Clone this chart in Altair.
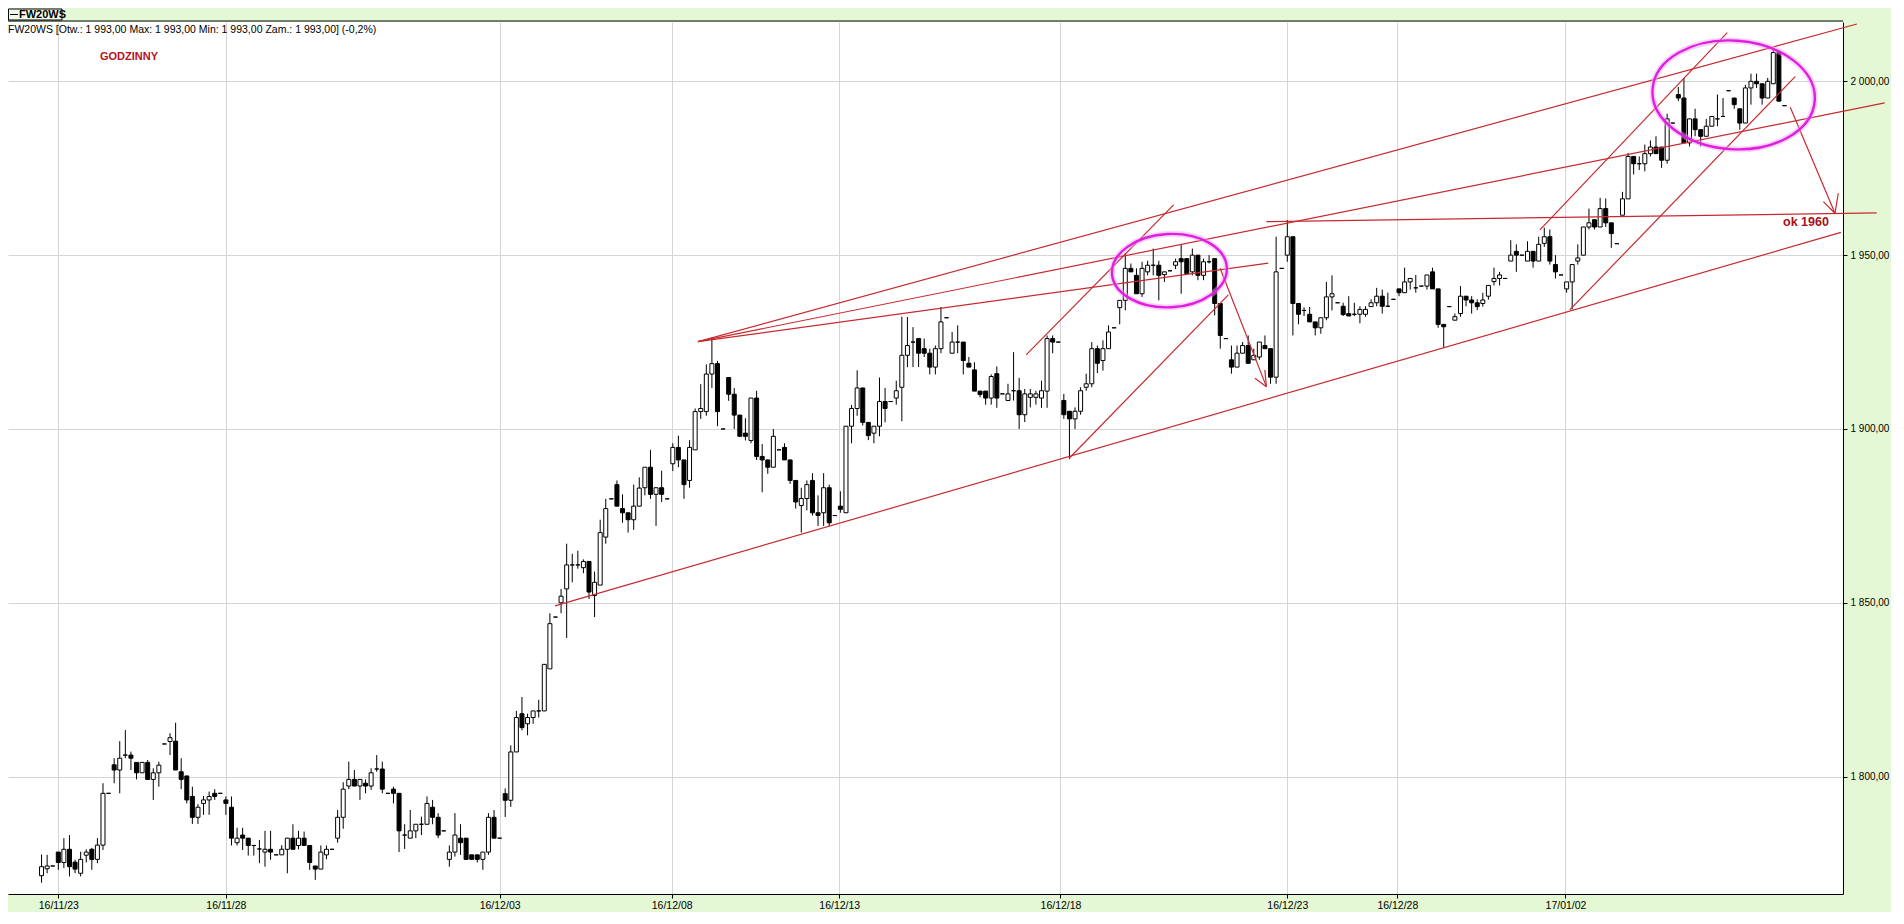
import altair as alt
import pandas as pd

# ---------------- candle data (hourly, FW20WS) ----------------
opens = [
1771.5,1773.5,1774.3,1778.3,1775.3,1779.1,1775.4,1772.2,1777.4,1779.1,
1776.2,1780.3,1795.2,1803.4,1801.9,1806.2,1806.2,1804.1,1801.1,1804.1,
1799.2,1801.1,1809.4,1810.1,1810.2,1801.4,1800.2,1794.3,1788.3,1792.3,
1793.3,1795.2,1795.2,1793.3,1791.2,1781.0,1783.2,1782.3,1780.2,1779.2,
1778.3,1779.1,1777.5,1777.5,1779.1,1782.3,1780.2,1782.3,1780.2,1774.3,
1773.4,1777.5,1779.1,1782.3,1788.3,1797.3,1799.2,1797.3,1798.1,1797.3,
1802.2,1802.2,1795.2,1796.4,1795.2,1783.2,1782.3,1784.4,1786.3,1786.3,
1791.2,1788.3,1784.4,1776.2,1778.3,1782.3,1782.3,1777.5,1777.5,1776.2,
1778.3,1788.3,1782.3,1795.1,1793.2,1807.1,1818.1,1815.2,1817.0,1818.9,
1818.9,1831.0,1845.9,1850.0,1854.0,1860.9,1860.9,1860.1,1861.9,1852.1,
1855.1,1868.9,1879.9,1884.0,1877.1,1875.9,1873.9,1877.8,1883.1,1889.0,
1881.2,1883.1,1879.9,1890.0,1894.7,1891.1,1885.2,1894.0,1905.0,1905.0,
1915.8,1918.8,1900.0,1914.8,1910.0,1904.0,1898.8,1896.7,1908.9,1892.1,
1891.1,1889.0,1894.0,1894.7,1891.1,1885.2,1878.0,1880.0,1885.2,1875.9,
1875.9,1883.1,1875.1,1877.8,1875.9,1900.8,1905.9,1911.8,1901.9,1898.8,
1900.8,1907.9,1907.9,1908.9,1912.0,1921.2,1925.0,1926.0,1923.1,1921.8,
1917.8,1923.1,1932.0,1921.8,1925.0,1925.0,1918.9,1917.0,1910.9,1910.9,
1908.9,1915.9,1910.1,1908.2,1911.0,1911.0,1904.1,1909.1,1909.1,1908.9,
1910.9,1926.0,1925.0,1908.2,1905.1,1902.9,1905.1,1912.0,1913.0,1923.1,
1919.7,1923.1,1929.1,1934.9,1937.0,1946.2,1944.2,1938.9,1945.2,1947.1,
1947.1,1944.4,1945.5,1947.1,1949.0,1949.0,1945.2,1950.0,1944.2,1948.1,
1949.0,1936.1,1926.0,1919.9,1917.8,1921.8,1924.0,1919.9,1920.7,1924.0,
1923.1,1914.9,1946.2,1950.0,1955.3,1936.1,1934.1,1933.0,1930.8,1929.1,
1932.0,1938.0,1936.3,1935.3,1933.2,1933.0,1933.0,1933.0,1935.2,1936.3,
1938.2,1935.3,1937.3,1940.3,1939.2,1942.3,1940.6,1941.1,1941.1,1945.2,
1940.3,1930.1,1935.2,1931.3,1933.2,1938.2,1937.1,1936.3,1936.1,1938.2,
1942.4,1943.3,1943.3,1948.3,1951.1,1950.0,1948.3,1951.1,1948.3,1953.4,
1955.3,1947.3,1944.3,1940.3,1942.3,1948.3,1950.0,1958.1,1960.2,1958.1,
1963.4,1959.3,1953.3,1961.5,1966.2,1978.4,1976.3,1976.3,1979.2,1981.1,
1981.1,1977.3,1988.0,1996.2,1995.2,1982.3,1989.2,1986.1,1984.2,1987.1,
1989.2,1989.9,1997.3,1995.2,1992.1,1988.0,1998.1,2000.0,1999.3,1995.2,
1999.3,2008.3,1993.0]

highs = [
1777.6,1777.5,1774.3,1778.3,1782.3,1783.2,1776.1,1778.4,1779.1,1779.5,
1782.3,1798.1,1795.2,1805.3,1810.2,1813.4,1807.2,1804.1,1804.1,1804.8,
1802.4,1804.3,1809.4,1812.5,1815.5,1805.3,1800.2,1797.1,1792.1,1794.4,
1795.7,1796.4,1795.2,1794.3,1794.3,1785.3,1785.3,1782.3,1780.2,1781.8,
1784.4,1784.4,1777.5,1780.3,1782.3,1786.3,1784.4,1784.2,1780.2,1774.3,
1780.2,1780.2,1779.1,1790.4,1798.4,1804.3,1801.9,1799.2,1799.2,1802.4,
1806.2,1804.3,1795.2,1797.1,1795.2,1786.3,1790.4,1786.3,1788.5,1794.3,
1793.3,1789.5,1784.4,1780.2,1789.5,1786.3,1782.3,1777.5,1777.5,1778.3,
1789.5,1790.4,1782.3,1796.6,1809.0,1818.9,1822.9,1818.1,1818.9,1822.1,
1832.3,1847.0,1845.9,1854.0,1867.0,1864.1,1865.0,1862.5,1861.9,1859.0,
1873.9,1879.9,1879.9,1885.2,1881.2,1875.9,1884.0,1886.1,1889.0,1894.0,
1883.1,1888.0,1879.9,1895.9,1898.1,1891.1,1896.8,1905.9,1912.9,1918.6,
1926.3,1919.6,1900.0,1914.8,1911.8,1904.0,1903.1,1908.9,1911.0,1895.7,
1891.1,1900.0,1894.0,1895.9,1891.1,1885.2,1883.1,1885.2,1887.3,1880.9,
1887.3,1884.0,1875.1,1882.1,1900.8,1906.9,1916.9,1911.8,1901.9,1900.8,
1914.8,1911.8,1907.9,1913.9,1932.3,1932.2,1929.3,1926.0,1926.0,1923.1,
1924.0,1935.1,1932.0,1927.9,1929.8,1925.0,1920.7,1919.2,1910.9,1910.9,
1915.7,1918.0,1910.1,1913.0,1922.1,1914.7,1911.5,1911.5,1911.0,1913.9,
1926.9,1926.9,1925.0,1910.1,1905.1,1906.2,1912.0,1915.9,1925.0,1924.0,
1925.5,1929.8,1929.1,1937.0,1950.5,1947.6,1946.2,1948.1,1948.4,1951.9,
1948.4,1945.2,1945.5,1949.0,1953.2,1949.0,1951.9,1950.0,1949.0,1950.0,
1949.0,1936.1,1926.0,1924.0,1924.0,1925.0,1926.9,1923.1,1925.0,1926.9,
1923.1,1955.3,1946.2,1960.1,1955.3,1936.1,1935.0,1935.1,1930.8,1932.0,
1942.3,1944.2,1936.3,1936.3,1938.2,1936.3,1935.3,1935.3,1937.3,1940.6,
1940.1,1939.2,1937.3,1940.3,1946.4,1943.3,1944.3,1941.1,1944.3,1946.4,
1940.3,1930.1,1935.2,1933.2,1941.1,1938.2,1938.2,1937.3,1939.2,1941.3,
1946.4,1945.2,1943.3,1954.3,1953.1,1950.0,1954.0,1951.1,1955.3,1957.9,
1957.4,1950.0,1944.3,1942.3,1947.3,1953.1,1958.1,1963.4,1960.2,1966.5,
1966.3,1959.3,1953.3,1968.2,1979.4,1978.4,1978.4,1981.8,1983.0,1984.2,
1981.1,1990.7,1988.0,1998.4,2001.0,1989.2,1992.1,1986.1,1989.2,1989.9,
1996.2,1995.2,1997.3,1995.2,1992.1,1999.0,2002.2,2002.2,1999.3,2001.0,
2009.1,2008.3,1993.0]

lows = [
1769.5,1772.2,1774.3,1773.2,1773.7,1771.3,1772.2,1771.3,1775.3,1773.2,
1775.1,1778.9,1795.2,1798.1,1795.2,1805.3,1801.9,1799.2,1801.1,1799.2,
1793.3,1797.1,1809.4,1806.2,1801.9,1796.4,1792.3,1786.4,1786.4,1789.0,
1789.0,1793.3,1795.2,1789.0,1780.2,1780.2,1778.9,1777.3,1777.3,1775.1,
1774.1,1776.1,1777.5,1777.5,1772.2,1779.1,1779.1,1780.2,1773.2,1770.3,
1773.4,1776.2,1779.1,1781.0,1785.0,1796.4,1797.3,1793.3,1795.2,1796.2,
1801.4,1795.2,1795.2,1792.3,1778.3,1779.2,1782.3,1782.3,1783.2,1786.3,
1786.3,1782.3,1784.4,1774.1,1777.0,1777.5,1776.2,1776.2,1775.3,1773.2,
1777.5,1782.3,1782.3,1788.4,1791.3,1807.1,1813.3,1811.9,1815.2,1817.0,
1818.9,1831.0,1845.9,1847.0,1839.9,1855.9,1859.8,1858.5,1851.1,1845.9,
1855.1,1867.0,1879.9,1877.8,1873.0,1870.2,1871.0,1877.8,1880.9,1879.9,
1872.1,1879.0,1879.9,1887.9,1889.0,1879.9,1883.1,1894.0,1902.9,1903.8,
1911.8,1900.8,1900.0,1908.1,1900.0,1897.9,1896.7,1895.9,1891.1,1881.8,
1887.1,1889.0,1894.0,1891.1,1884.2,1877.1,1870.2,1876.6,1875.1,1872.1,
1872.1,1872.1,1875.1,1875.9,1875.9,1895.9,1903.8,1901.0,1896.8,1895.9,
1897.9,1901.9,1907.9,1907.0,1902.2,1917.8,1917.8,1917.8,1920.7,1915.7,
1915.7,1921.8,1932.0,1921.8,1921.8,1915.7,1917.8,1910.9,1909.1,1907.0,
1907.0,1906.1,1910.1,1908.2,1908.2,1900.0,1902.0,1906.2,1907.0,1906.1,
1906.1,1921.8,1925.0,1902.9,1891.3,1900.0,1904.1,1911.0,1912.0,1916.1,
1916.8,1923.1,1929.1,1930.1,1934.1,1945.2,1938.9,1938.0,1944.2,1944.2,
1937.0,1942.3,1945.5,1946.0,1938.9,1944.7,1944.2,1942.8,1942.8,1947.6,
1932.7,1923.1,1926.0,1915.9,1917.8,1921.8,1918.9,1919.9,1919.9,1923.1,
1913.0,1913.0,1946.2,1948.1,1926.9,1930.1,1932.5,1930.8,1926.9,1927.4,
1931.3,1934.1,1936.3,1932.5,1932.5,1932.5,1930.4,1932.3,1935.2,1935.3,
1933.2,1935.3,1937.3,1938.2,1939.2,1940.1,1939.2,1941.1,1940.1,1940.3,
1929.1,1923.4,1935.2,1931.3,1932.3,1935.3,1933.2,1934.2,1935.2,1937.2,
1941.3,1941.3,1943.3,1948.3,1945.2,1950.0,1948.3,1946.4,1948.3,1952.4,
1947.3,1943.3,1944.3,1939.2,1934.4,1947.3,1950.0,1957.4,1957.4,1958.1,
1958.1,1952.1,1953.3,1961.5,1966.2,1973.2,1974.5,1974.1,1978.4,1979.2,
1975.1,1976.3,1988.0,1994.3,1982.3,1981.3,1984.2,1981.3,1984.2,1987.1,
1987.1,1989.9,1997.3,1992.1,1986.1,1988.0,1993.3,1998.1,1993.3,1995.2,
1999.3,1994.3,1993.0]

closes = [
1774.1,1774.3,1774.3,1775.3,1779.1,1774.1,1773.4,1776.2,1778.3,1776.2,
1780.3,1795.2,1795.2,1801.9,1805.3,1806.2,1805.3,1801.1,1804.1,1799.2,
1801.1,1803.3,1809.4,1811.2,1801.9,1799.2,1793.3,1788.3,1791.2,1793.3,
1794.3,1794.3,1795.2,1792.3,1782.3,1782.3,1782.3,1780.2,1780.2,1779.2,
1779.1,1778.3,1777.5,1779.1,1782.3,1779.1,1782.3,1780.2,1775.3,1773.4,
1778.3,1779.1,1779.1,1788.3,1796.4,1799.2,1797.3,1799.2,1797.3,1801.1,
1802.2,1796.4,1795.2,1795.2,1784.4,1783.2,1784.4,1786.3,1786.3,1792.3,
1788.3,1783.2,1784.4,1778.3,1783.2,1781.0,1776.2,1776.2,1776.2,1778.3,
1788.3,1782.3,1782.3,1793.2,1807.1,1817.0,1814.1,1817.0,1818.9,1818.9,
1832.3,1844.0,1845.9,1851.9,1860.9,1860.9,1860.9,1861.9,1853.1,1855.9,
1870.2,1877.1,1879.9,1877.8,1875.9,1873.9,1877.8,1883.0,1889.0,1881.2,
1883.1,1881.2,1879.9,1894.7,1891.1,1884.0,1894.7,1905.0,1905.9,1915.8,
1918.8,1905.0,1900.0,1910.0,1904.0,1897.9,1897.9,1908.9,1892.1,1891.1,
1889.0,1897.9,1894.0,1891.1,1885.2,1879.0,1880.0,1884.0,1875.9,1875.1,
1883.1,1873.0,1875.1,1876.9,1900.8,1905.9,1911.8,1901.9,1898.1,1900.8,
1907.9,1905.9,1907.9,1911.0,1921.2,1924.0,1925.0,1921.8,1921.8,1917.8,
1923.1,1930.8,1932.0,1925.0,1925.0,1919.7,1917.8,1910.9,1909.9,1908.9,
1915.1,1908.9,1910.1,1910.1,1911.0,1904.1,1910.1,1910.1,1910.1,1911.0,
1926.0,1925.0,1925.0,1904.1,1902.9,1905.1,1911.0,1913.0,1923.1,1918.9,
1923.1,1927.9,1929.1,1937.0,1946.2,1945.2,1938.9,1946.2,1947.1,1947.1,
1944.2,1945.2,1945.5,1948.1,1948.1,1944.7,1950.0,1944.2,1948.1,1948.1,
1936.1,1926.9,1926.0,1917.8,1921.8,1924.0,1918.9,1921.2,1925.0,1923.1,
1914.9,1945.2,1946.2,1955.3,1936.1,1933.0,1934.1,1930.8,1929.1,1932.0,
1938.0,1938.9,1936.3,1932.9,1932.5,1933.0,1934.4,1934.4,1936.3,1938.2,
1935.3,1935.3,1937.3,1939.2,1942.3,1943.3,1940.6,1941.1,1944.3,1940.3,
1930.1,1929.4,1935.2,1932.3,1938.2,1937.1,1936.3,1935.2,1937.1,1941.3,
1943.3,1944.3,1943.3,1950.0,1950.0,1950.0,1951.1,1948.3,1953.1,1955.3,
1948.3,1945.2,1944.3,1942.3,1947.3,1949.2,1958.1,1959.3,1958.1,1963.4,
1959.3,1956.2,1953.3,1966.2,1978.4,1976.3,1976.3,1979.2,1981.1,1979.2,
1977.3,1989.2,1988.0,1995.2,1982.3,1989.2,1986.1,1984.2,1987.1,1989.9,
1989.2,1989.9,1997.3,1993.3,1988.0,1998.1,2000.0,1999.3,1995.2,2000.0,
2008.3,1994.3,1993.0]

# ---------------- axes ----------------
x_tick_pos = [4, 34, 83, 113.8, 143.8, 183.4, 224, 243.7, 273.8]
x_tick_lab = ["16/11/23", "16/11/28", "16/12/03", "16/12/08", "16/12/13",
              "16/12/18", "16/12/23", "16/12/28", "17/01/02"]
y_tick_val = [1800, 1850, 1900, 1950, 2000]
y_tick_lab = ["1 800,00", "1 850,00", "1 900,00", "1 950,00", "2 000,00"]

# ---------------- hand-drawn trend lines / arrows (data units) ----------------
seg_x1 = [92.92, 118.5, 118.5, 118.5, 177.25, 184.96, 220.26, 269.22, 274.56,
          211.97, 218.2, 219.98, 314.03, 319.96, 322.63]
seg_y1 = [1849.14, 1925.13, 1925.13, 1925.13, 1921.3, 1891.58, 1959.64, 1957.26, 1934.24,
          1946.24, 1914.6, 1916.98, 1992.55, 1965.4, 1967.81]
seg_x2 = [323.1, 325.96, 330.95, 220.6, 203.65, 213.44, 329.5, 302.76, 314.92,
          220.26, 220.26, 220.26, 322.04, 322.04, 322.04]
seg_y2 = [1956.54, 2016.5, 1993.8, 1947.73, 1964.45, 1938.56, 1962.15, 2014.0, 2001.35,
          1912.18, 1912.18, 1912.18, 1962.06, 1962.06, 1962.06]

ellipse_x = [202.9, 303.9]
ellipse_y = [1945.55, 1996.1]

n = min(len(opens), len(highs), len(lows), len(closes))
df = pd.DataFrame({
    "i": list(range(1, n + 1)),
    "o": opens[:n], "h": highs[:n], "l": lows[:n], "c": closes[:n],
})
df["dir"] = ["up" if c >= o else "down" for o, c in zip(df["o"], df["c"])]

seg_df = pd.DataFrame({"x1": seg_x1, "y1": seg_y1, "x2": seg_x2, "y2": seg_y2})

W, H = 1835, 872
xs = alt.Scale(domain=[-4.109, 322.58], nice=False, zero=False)
ys = alt.Scale(domain=[1766.24, 2017.07], nice=False, zero=False)

x_expr = "[" + ",".join("'%s'" % s for s in x_tick_lab) + "][indexof([" + \
         ",".join(str(v) for v in x_tick_pos) + "], datum.value)]"
y_expr = "[" + ",".join("'%s'" % s for s in y_tick_lab) + "][indexof([" + \
         ",".join(str(v) for v in y_tick_val) + "], datum.value)]"

LBL_FONT = "Liberation Sans Narrow, Arial Narrow, Liberation Sans, sans-serif"

xaxis = alt.Axis(values=x_tick_pos, labelExpr=x_expr, title=None, orient="bottom",
                 grid=True, gridColor="#D5D5D5", gridWidth=1, domainColor="black",
                 domainWidth=1, tickColor="black", tickSize=4, labelFont=LBL_FONT,
                 labelFontSize=10.5, labelColor="black", labelPadding=2, labelFlush=False,
                 labelOverlap=False, labelBaseline="top")
yaxis = alt.Axis(values=y_tick_val, labelExpr=y_expr, title=None, orient="right",
                 grid=True, gridColor="#D5D5D5", gridWidth=1, domainColor="black",
                 domainWidth=1, tickColor="black", tickSize=4, labelFont="Liberation Sans",
                 labelFontSize=10, labelColor="black", labelPadding=3, labelOverlap=False)

wick = alt.Chart(df).mark_rule(color="black", strokeWidth=1).encode(
    x=alt.X("i:Q", scale=xs, axis=xaxis),
    y=alt.Y("l:Q", scale=ys, axis=yaxis),
    y2="h:Q",
)

body = alt.Chart(df).mark_bar(size=4, stroke="black", strokeWidth=1).encode(
    x=alt.X("i:Q", scale=xs),
    y=alt.Y("o:Q", scale=ys),
    y2="c:Q",
    fill=alt.Fill("dir:N", scale=alt.Scale(domain=["up", "down"], range=["white", "black"]),
                  legend=None),
)

lines = alt.Chart(seg_df).mark_rule(color="#C62A30", strokeWidth=1.2, clip=False).encode(
    x=alt.X("x1:Q", scale=xs), x2="x2:Q",
    y=alt.Y("y1:Q", scale=ys), y2="y2:Q",
)

path_small = "M -1 0 A 1 0.638 0 1 1 1 0 A 1 0.638 0 1 1 -1 0 Z"
path_big = "M -1 0 A 1 0.668 0 1 1 1 0 A 1 0.668 0 1 1 -1 0 Z"
ell_small_df = pd.DataFrame({"x": ellipse_x[:1], "y": ellipse_y[:1]})
ell_big_df = pd.DataFrame({"x": ellipse_x[1:], "y": ellipse_y[1:]})

def ellipse(d, path, size, ang, width, col, op):
    return alt.Chart(d).mark_point(shape=path, size=size, filled=False, color=col,
                                   strokeWidth=width, opacity=op, angle=ang,
                                   clip=False).encode(
        x=alt.X("x:Q", scale=xs), y=alt.Y("y:Q", scale=ys))

ell = (ellipse(ell_small_df, path_small, 13225, 357, 6, "#F2A0F2", 0.45) +
       ellipse(ell_small_df, path_small, 13225, 357, 2.4, "#E01EE0", 1) +
       ellipse(ell_big_df, path_big, 26439, 4, 6, "#F2A0F2", 0.45) +
       ellipse(ell_big_df, path_big, 26439, 4, 2.4, "#E01EE0", 1))

one = pd.DataFrame({"t": [""]})

header = alt.Chart(pd.DataFrame({"t": ["FW20WS [Otw.: 1 993,00  Max: 1 993,00  Min: 1 993,00  Zam.: 1 993,00] (-0,2%)"]})).mark_text(
    align="left", baseline="middle", font="Liberation Sans", fontSize=10.5, color="black"
).encode(text="t:N", x=alt.value(0), y=alt.value(8))

godz = alt.Chart(pd.DataFrame({"t": ["GODZINNY"]})).mark_text(
    align="left", baseline="middle", font="Liberation Sans", fontSize=11, fontWeight="bold",
    color="#B4121C"
).encode(text="t:N", x=alt.value(92), y=alt.value(35))

ok = alt.Chart(pd.DataFrame({"t": ["ok 1960"]})).mark_text(
    align="left", baseline="middle", font="Liberation Sans", fontSize=12.5, fontWeight="bold",
    color="#A80E18", clip=False
).encode(text="t:N", x=alt.value(1775), y=alt.value(200))

topline = alt.Chart(one).mark_rule(color="black", strokeWidth=1, clip=False).encode(
    x=alt.value(0), x2=alt.value(W), y=alt.value(-1), y2=alt.value(-1))

box = alt.Chart(one).mark_rect(fill="#F2FBEA", stroke="black", strokeWidth=1, clip=False).encode(
    x=alt.value(0.5), x2=alt.value(54), y=alt.value(-13), y2=alt.value(-2))
boxdash = alt.Chart(one).mark_rule(color="black", strokeWidth=1, clip=False).encode(
    x=alt.value(2), x2=alt.value(10), y=alt.value(-7.5), y2=alt.value(-7.5))
boxtext = alt.Chart(pd.DataFrame({"t": ["FW20WS"]})).mark_text(
    align="left", baseline="middle", font="Liberation Sans", fontSize=11, fontWeight="bold",
    color="black", clip=False
).encode(text="t:N", x=alt.value(11), y=alt.value(-7))

chart = alt.layer(wick, body, lines, ell, header, godz, ok, topline, box, boxdash, boxtext).properties(
    width=W, height=H,
    background="#E5F8D5",
    padding={"left": 0, "top": 14, "right": 48, "bottom": 18},
    autosize=alt.AutoSizeParams(type="none"),
).configure_view(stroke=None, fill="white")

chart.save("out.html", embed_options={"renderer": "svg", "actions": False})
